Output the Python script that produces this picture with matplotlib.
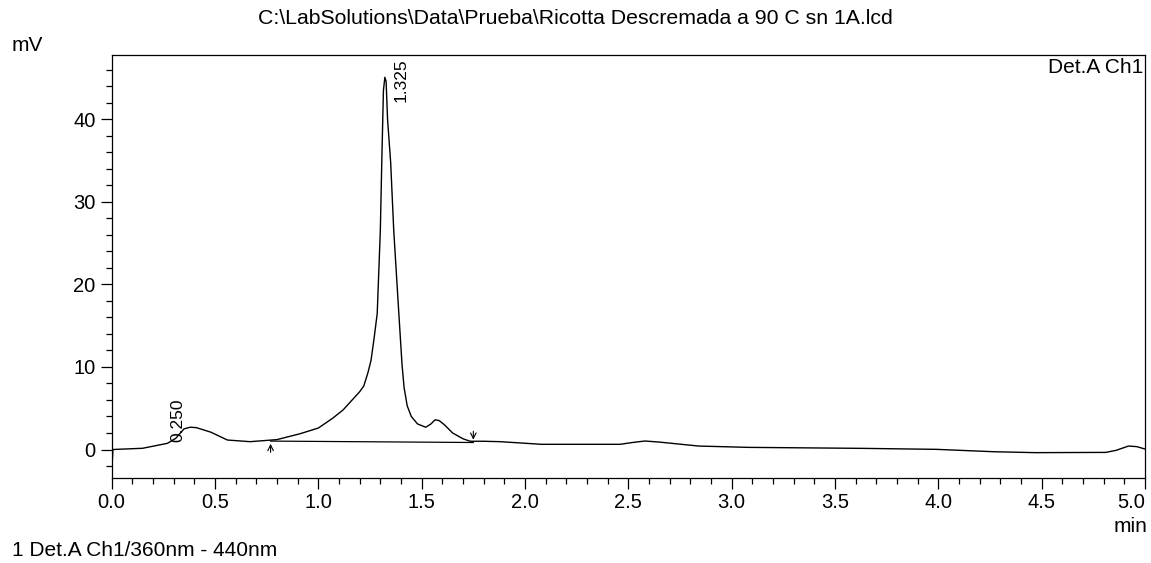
import matplotlib
matplotlib.use('Agg')
import matplotlib.pyplot as plt
from matplotlib.ticker import MultipleLocator

plt.rcParams['font.family'] = ['Liberation Sans', 'DejaVu Sans']

# chromatogram trace (time in min, signal in mV)
t = [0.004, 0.006, 0.15, 0.27, 0.31, 0.35, 0.38, 0.41, 0.48, 0.56, 0.67,
     0.80, 0.91, 1.00, 1.07, 1.12, 1.16, 1.20, 1.22, 1.24, 1.255, 1.27,
     1.285, 1.30, 1.307, 1.315, 1.322, 1.328, 1.335, 1.35, 1.365, 1.39,
     1.405, 1.415, 1.43, 1.45, 1.48, 1.52, 1.545, 1.565, 1.585, 1.61,
     1.65, 1.70, 1.735, 1.80, 1.88, 2.08, 2.46, 2.52, 2.58, 2.65, 2.84,
     3.08, 3.63, 3.99, 4.27, 4.47, 4.81, 4.86, 4.92, 4.96, 5.0]
mv = [-1.1, 0.0, 0.15, 0.75, 1.35, 2.5, 2.7, 2.65, 2.1, 1.15, 0.95,
      1.2, 1.9, 2.6, 3.8, 4.8, 5.9, 7.0, 7.7, 9.3, 10.8, 13.5,
      16.5, 26.5, 34.8, 43.5, 45.1, 44.6, 40.0, 34.8, 26.5, 16.3,
      10.3, 7.5, 5.3, 4.0, 3.1, 2.7, 3.1, 3.6, 3.5, 3.0,
      2.0, 1.3, 1.0, 1.0, 0.95, 0.63, 0.63, 0.85, 1.03, 0.9, 0.42,
      0.26, 0.14, 0.02, -0.27, -0.38, -0.35, -0.1, 0.42, 0.35, 0.06]

# integration baseline and peak marks
base_t = [0.769, 1.75]
base_mv = [1.02, 0.85]
peak_t = [0.32, 1.40]
peak_lbl_mv = [0.9, 42.1]
peak_lbl = ['0.250', '1.325']

fig = plt.figure(figsize=(11.51, 5.63), dpi=100)
ax = fig.add_axes([0.097, 0.151, 0.8978, 0.7513])

ax.plot(t, mv, color='black', lw=1.0)
ax.plot(base_t, base_mv, color='black', lw=0.9)

# start / end arrows of the integration
ax.annotate('', xy=(base_t[0], base_mv[0]), xytext=(base_t[0], base_mv[0] - 1.7),
            arrowprops=dict(arrowstyle='->', color='black', lw=0.8))
ax.annotate('', xy=(base_t[1], base_mv[1]), xytext=(base_t[1], base_mv[1] + 1.7),
            arrowprops=dict(arrowstyle='->', color='black', lw=0.8))

for x0, y0, s in zip(peak_t, peak_lbl_mv, peak_lbl):
    ax.text(x0, y0, s, rotation=90, ha='center', va='bottom', fontsize=12.5)

ax.set_xlim(0, 5.0)
ax.set_ylim(-3.45, 47.8)
ax.xaxis.set_major_locator(MultipleLocator(0.5))
ax.xaxis.set_minor_locator(MultipleLocator(0.1))
ax.yaxis.set_major_locator(MultipleLocator(10))
ax.yaxis.set_minor_locator(MultipleLocator(2))
ax.tick_params(which='major', direction='out', length=8, width=0.9, labelsize=14.5)
ax.tick_params(which='minor', direction='out', length=4.5, width=0.9)
ax.tick_params(axis='x', pad=3)
ax.set_xticks([0.0, 0.5, 1.0, 1.5, 2.0, 2.5, 3.0, 3.5, 4.0, 4.5, 5.0])
ax.set_xticklabels([f'{v:.1f}' for v in ax.get_xticks()])
ax.get_xticklabels()[-1].set_horizontalalignment('right')
for sp in ax.spines.values():
    sp.set_linewidth(0.9)

ax.text(0.998, 0.992, 'Det.A Ch1', transform=ax.transAxes, ha='right', va='top',
        fontsize=15)

fig.text(0.5, 0.968, r'C:\LabSolutions\Data\Prueba\Ricotta Descremada a 90 C sn 1A.lcd',
         ha='center', va='center', fontsize=15.3)
fig.text(0.010, 0.920, 'mV', ha='left', va='center', fontsize=15)
fig.text(0.9965, 0.064, 'min', ha='right', va='center', fontsize=15)
fig.text(0.010, 0.022, '1 Det.A Ch1/360nm - 440nm', ha='left', va='center', fontsize=15)

fig.savefig('out.png', dpi=100)
